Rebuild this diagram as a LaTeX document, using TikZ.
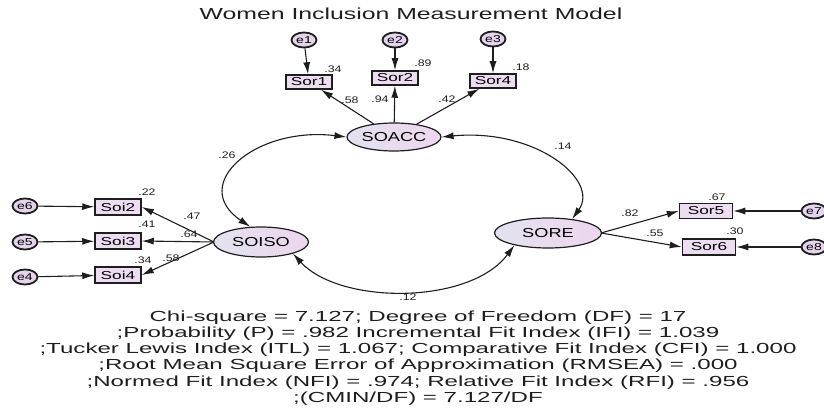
\documentclass[tikz,border=0pt]{standalone}
\usepackage{fontspec}
\setmainfont{Liberation Sans}
\newfontfamily\wideA[FakeStretch=1.4]{Liberation Sans}
\newfontfamily\wideB[FakeStretch=1.65]{Liberation Sans}
\newfontfamily\wideC[FakeStretch=1.3]{Liberation Sans}
\newfontfamily\wideD[FakeStretch=1.5]{Liberation Sans}
\newfontfamily\wideE[FakeStretch=1.55]{Liberation Sans}
\usetikzlibrary{arrows.meta,shapes.geometric}
\definecolor{obsfill}{HTML}{ECDDF0}
\definecolor{errfill}{HTML}{E4D4EC}
\definecolor{latl}{HTML}{E2E2EE}
\definecolor{latr}{HTML}{EED6EE}
\definecolor{ink}{HTML}{1E1E1E}
\begin{document}
\begin{tikzpicture}[x=1pt,y=-1pt,
 obs/.style={draw=ink,line width=1.5pt,fill=obsfill,minimum width=46pt,minimum height=14pt,inner sep=0pt,font=\wideD\fontsize{11.5}{11.5}\selectfont},
 err/.style={ellipse,draw=ink,line width=1.8pt,fill=errfill,minimum width=25pt,minimum height=15pt,inner sep=0pt,font=\wideA\fontsize{10}{10}\selectfont},
 lat/.style={ellipse,draw=ink,line width=1.2pt,left color=latl,right color=latr,minimum width=94pt,minimum height=28pt,inner sep=0pt,font=\wideA\fontsize{13}{13}\selectfont},
 arr/.style={-{Latex[length=12pt,width=7pt]},line width=1.1pt,draw=ink},
 cov/.style={{Latex[length=12pt,width=7pt]}-{Latex[length=12pt,width=7pt]},line width=1.1pt,draw=ink},
 lbl/.style={font=\wideC\fontsize{9.5}{9.5}\selectfont,inner sep=0pt,text=ink},
 stat/.style={font=\wideB\fontsize{14.6}{16.3}\selectfont,align=center,inner sep=0pt,text=ink}
]
\useasboundingbox (0,0) rectangle (824,411);
\node[font=\wideE\fontsize{16}{16}\selectfont,text=ink] (title) at (411,14) {Women Inclusion Measurement Model};
% latent
\node[lat] (soacc) at (394,137) {SOACC};
\node[lat,minimum width=95pt,minimum height=30pt] (soiso) at (261,242) {SOISO};
\node[lat,minimum width=107pt,minimum height=30pt] (sore) at (548,233) {SORE};
% top
\node[err] (e1) at (304,40) {e1};
\node[err] (e2) at (395,40) {e2};
\node[err] (e3) at (493,39) {e3};
\node[obs] (sor1) at (309,82) {Sor1};
\node[obs] (sor2) at (395,78) {Sor2};
\node[obs] (sor4) at (493,81) {Sor4};
\draw[arr] (e1) -- (sor1);
\draw[arr] (e2) -- (sor2);
\draw[arr] (e3) -- (sor4);
\draw[arr] (soacc) -- (sor1);
\draw[arr] (soacc) -- (sor2);
\draw[arr] (soacc) -- (sor4);
\node[lbl] (l34a) at (333,69) {.34};
\node[lbl] (l89) at (423,63) {.89};
\node[lbl] (l18) at (521,67) {.18};
\node[lbl] (l58a) at (350,100) {.58};
\node[lbl] (l94) at (380,99) {.94};
\node[lbl] (l42) at (447,99) {.42};
% left
\node[err] (e6) at (25,206) {e6};
\node[err] (e5) at (25,242) {e5};
\node[err] (e4) at (25,277) {e4};
\node[obs,minimum height=16pt] (soi2) at (118,207) {Soi2};
\node[obs,minimum height=16pt] (soi3) at (118,241) {Soi3};
\node[obs,minimum height=16pt] (soi4) at (118,275) {Soi4};
\coordinate (soisoL) at (214,242);
\draw[arr] (e6) -- (soi2);
\draw[arr] (e5) -- (soi3);
\draw[arr] (e4) -- (soi4);
\draw[arr] (soisoL) -- (soi2.east);
\draw[arr] (soisoL) -- (soi3.east);
\draw[arr] (soisoL) -- (soi4.east);
\node[lbl] (l22) at (147,192) {.22};
\node[lbl] (l41) at (147,224) {.41};
\node[lbl] (l34b) at (143,260) {.34};
\node[lbl] (l47) at (192,216) {.47};
\node[lbl] (l64) at (189,234) {.64};
\node[lbl] (l58b) at (171,258) {.58};
% right
\node[obs,minimum width=53pt,minimum height=15pt] (sor5) at (706,211) {Sor5};
\node[obs,minimum width=53pt,minimum height=16pt] (sor6) at (709,247) {Sor6};
\node[err] (e7) at (814,211) {e7};
\node[err] (e8) at (814,247) {e8};
\coordinate (soreR) at (601,233);
\draw[arr] (e7) -- (sor5);
\draw[arr] (e8) -- (sor6);
\draw[arr] (soreR) -- (sor5.west);
\draw[arr] (soreR) -- (sor6.west);
\node[lbl] (l67) at (717,197) {.67};
\node[lbl] (l30) at (735,231) {.30};
\node[lbl] (l82) at (630,213) {.82};
\node[lbl] (l55) at (655,233) {.55};
% covariances
\draw[cov] (soacc.west) .. controls (255,126) and (188,185) .. (soiso.125);
\draw[cov] (soacc.east) .. controls (535,128) and (600,180) .. (sore.30);
\draw[cov] (soiso.-20) .. controls (340,305) and (470,305) .. (sore.200);
\node[lbl] (l26) at (227,155) {.26};
\node[lbl] (l14) at (563,146) {.14};
\node[lbl] (l12) at (408,297) {.12};
% stats
\node[stat] (stats) at (418,358) {Chi-square = 7.127; Degree of Freedom (DF) = 17\\
;Probability (P) = .982 Incremental Fit Index (IFI) = 1.039\\
;Tucker Lewis Index (ITL) = 1.067; Comparative Fit Index (CFI) = 1.000\\
;Root Mean Square Error of Approximation (RMSEA) = .000\\
;Normed Fit Index (NFI) = .974; Relative Fit Index (RFI) = .956\\
;(CMIN/DF) = 7.127/DF};
\end{tikzpicture}
\end{document}
